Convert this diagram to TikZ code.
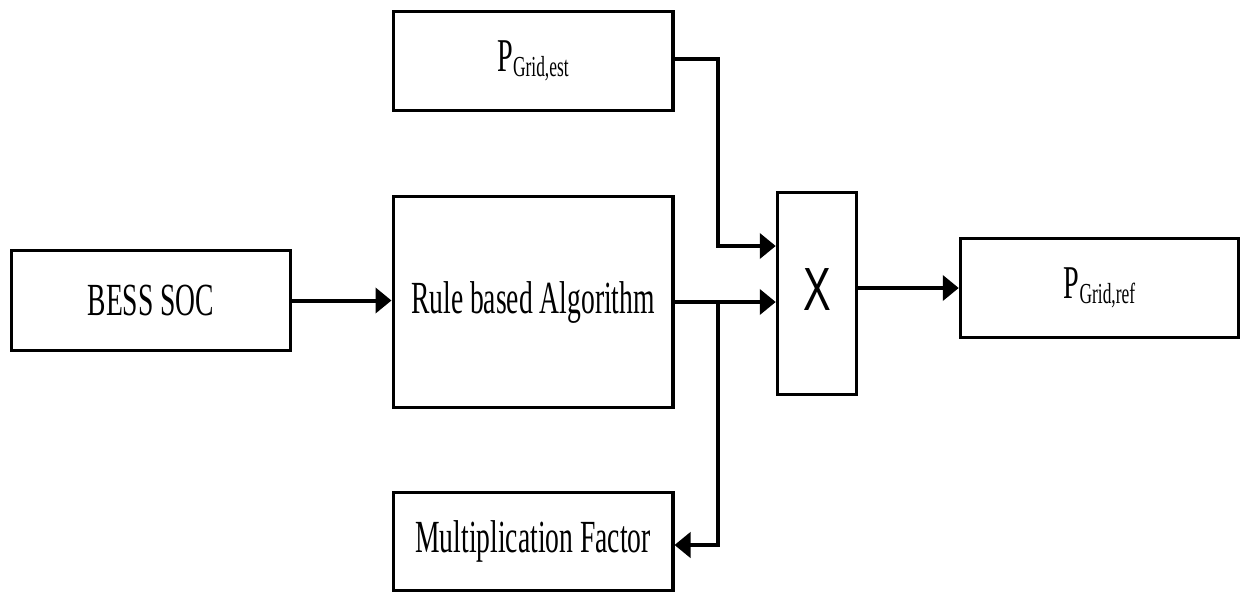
\documentclass[tikz,border=0pt]{standalone}
\usepackage{fontspec}
\setmainfont{Liberation Serif}[FakeStretch=0.6]
\newfontfamily\xfont{Liberation Sans}
\usetikzlibrary{arrows.meta,calc}
\newcommand{\psub}[1]{P\raisebox{-5pt}{\fontsize{29}{32}\selectfont #1}}
\begin{document}
\begin{tikzpicture}[x=1pt,y=-1pt,
  blk/.style={draw=black,line width=3.5pt,rectangle,inner sep=0pt,fill=white,
    font=\fontsize{46}{52}\selectfont},
  conn/.style={line width=4pt,-{Triangle[length=16pt,width=25pt]}}]
\useasboundingbox[fill=white] (0,0) rectangle (1241,595);
\node[blk,minimum width=279pt,minimum height=100pt] (bess) at (151,300.5) {BESS SOC};
\node[blk,minimum width=279.5pt,minimum height=211pt] (rule) at (533,302) {Rule based Algorithm};
\node[blk,minimum width=279.5pt,minimum height=99pt] (est) at (533,61) {\fontsize{47}{52}\selectfont\psub{Grid,est}};
\node[blk,minimum width=279.5pt,minimum height=98pt] (mf) at (533,541.5) {Multiplication Factor};
\node[blk,minimum width=79pt,minimum height=202pt] (mult) at (817,293.5) {\raisebox{7pt}{\xfont\fontsize{61}{66}\selectfont\scalebox{0.68}[1]{X}}};
\node[blk,minimum width=278pt,minimum height=99pt] (ref) at (1099.5,288) {\fontsize{47}{52}\selectfont\psub{Grid,ref}};
\coordinate (jx) at (718,0);
\coordinate (in1) at ([yshift=47.5pt]mult.west);
\draw[conn] (bess.east) -- (bess.east -| rule.west);
\draw[conn] (rule.east) -- (rule.east -| mult.west);
\draw[conn] ([yshift=2pt]est.east) -| (jx |- in1) -- (in1);
\draw[conn] (jx |- rule.east) |- ([yshift=-3.5pt]mf.east);
\draw[conn] (ref.west -| mult.east) -- (ref.west);
\end{tikzpicture}
\end{document}
